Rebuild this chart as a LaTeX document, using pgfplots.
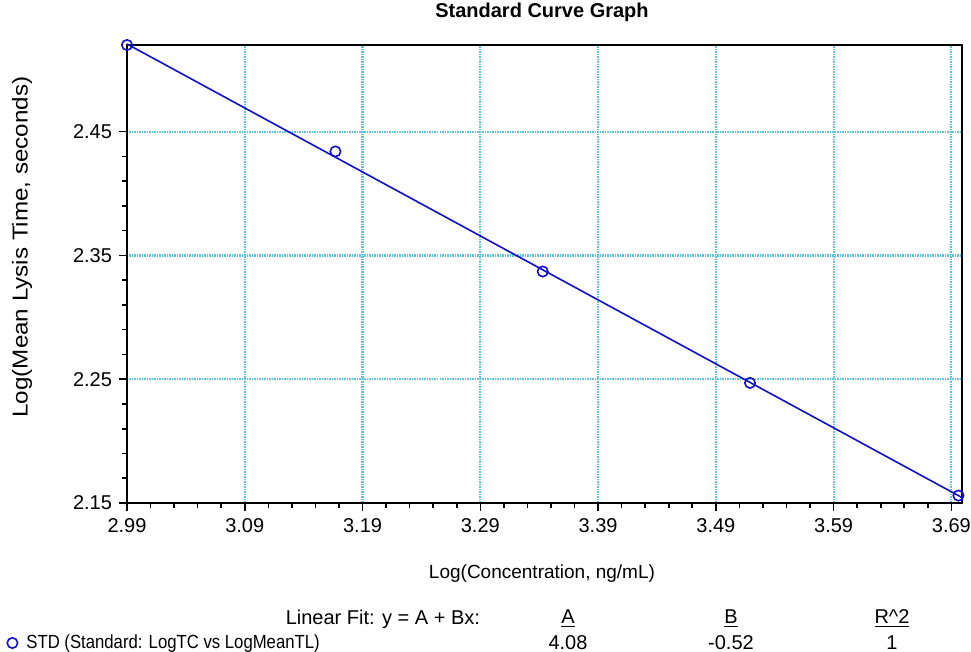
\documentclass[border=0pt]{standalone}
\usepackage{pgfplots}
\pgfplotsset{compat=1.18}
\usepackage{fontspec}
\setmainfont{Liberation Sans}
\newfontfamily\narrowfont[FakeStretch=0.88]{Liberation Sans}
\newfontfamily\widefont[FakeStretch=1.12]{Liberation Sans}
\definecolor{FitBlue}{HTML}{1010CC}
\definecolor{GridCyan}{HTML}{5EC4DA}

\begin{document}
\begin{tikzpicture}[x=1pt,y=1pt]
\useasboundingbox (-63.5,-74.5) rectangle (422,251.5);
\begin{axis}[
  name=main,
  at={(0,0)}, anchor=south west,
  scale only axis,
  width=417.5pt, height=229pt,
  xmin=2.99, xmax=3.699,
  ymin=2.15, ymax=2.52,
  xtick={2.99,3.09,3.19,3.29,3.39,3.49,3.59,3.69},
  ytick={2.15,2.25,2.35,2.45},
  minor x tick num=4,
  minor y tick num=4,
  xtick pos=bottom, ytick pos=left,
  xticklabel style={/pgf/number format/fixed,/pgf/number format/precision=2,/pgf/number format/fixed zerofill},
  yticklabel style={/pgf/number format/fixed,/pgf/number format/precision=2,/pgf/number format/fixed zerofill},
  /pgf/number format/assume math mode=true,
  tick label style={font=\fontsize{10}{12}\selectfont, black},
  tick align=outside,
  major tick length=4pt,
  minor tick length=2.5pt,
  tick style={black, line width=0.8pt},
  axis line style={black, line width=1pt},
  xmajorgrids, ymajorgrids,
  major grid style={GridCyan, line width=1.1pt, dash pattern=on 0.75pt off 0.5pt},
  clip=false,
  legend style={at={(axis description cs:-0.1449,-0.3057)}, anchor=west, draw=none, fill=none,
    font=\narrowfont\fontsize{9.5}{11}\selectfont, inner sep=0pt},
  legend cell align=left,
]
\addplot[FitBlue, line width=0.8pt, forget plot] coordinates {(2.99,2.5208) (3.699,2.1544)};
\addplot[only marks, mark=o, mark size=2.6pt, FitBlue, line width=0.8pt,
  legend image code/.code={\path[draw=none,fill=none] (0pt,0pt) rectangle (8pt,0pt); \draw[only marks] plot coordinates {(3pt,0pt)};}]
  coordinates {
  (2.990,2.520)
  (3.167,2.434)
  (3.343,2.337)
  (3.519,2.247)
  (3.696,2.156)
};
\addlegendentry{STD (Standard: LogTC vs LogMeanTL)}
\end{axis}
\node[font=\bfseries\fontsize{10}{12}\selectfont] at (207.5,245.5) {Standard Curve Graph};
\node[font=\fontsize{9.5}{11}\selectfont] at (207.5,-35.5) {Log(Concentration, ng/mL)};
\node[font=\widefont\fontsize{10.8}{13}\selectfont, rotate=90] at (-52.5,128) {Log(Mean Lysis Time, seconds)};
\begin{scope}[font=\fontsize{10}{12}\selectfont]
\node[anchor=east] at (180,-58) {Linear Fit: y = A + Bx:};
\node at (220.5,-58) {\underline{A}};
\node at (302,-58) {\underline{B}};
\node at (382.5,-58) {\underline{R\textasciicircum 2}};
\node at (220.5,-70) {4.08};
\node at (302,-70) {-0.52};
\node at (382.5,-70) {1};
\end{scope}
\end{tikzpicture}
\end{document}
